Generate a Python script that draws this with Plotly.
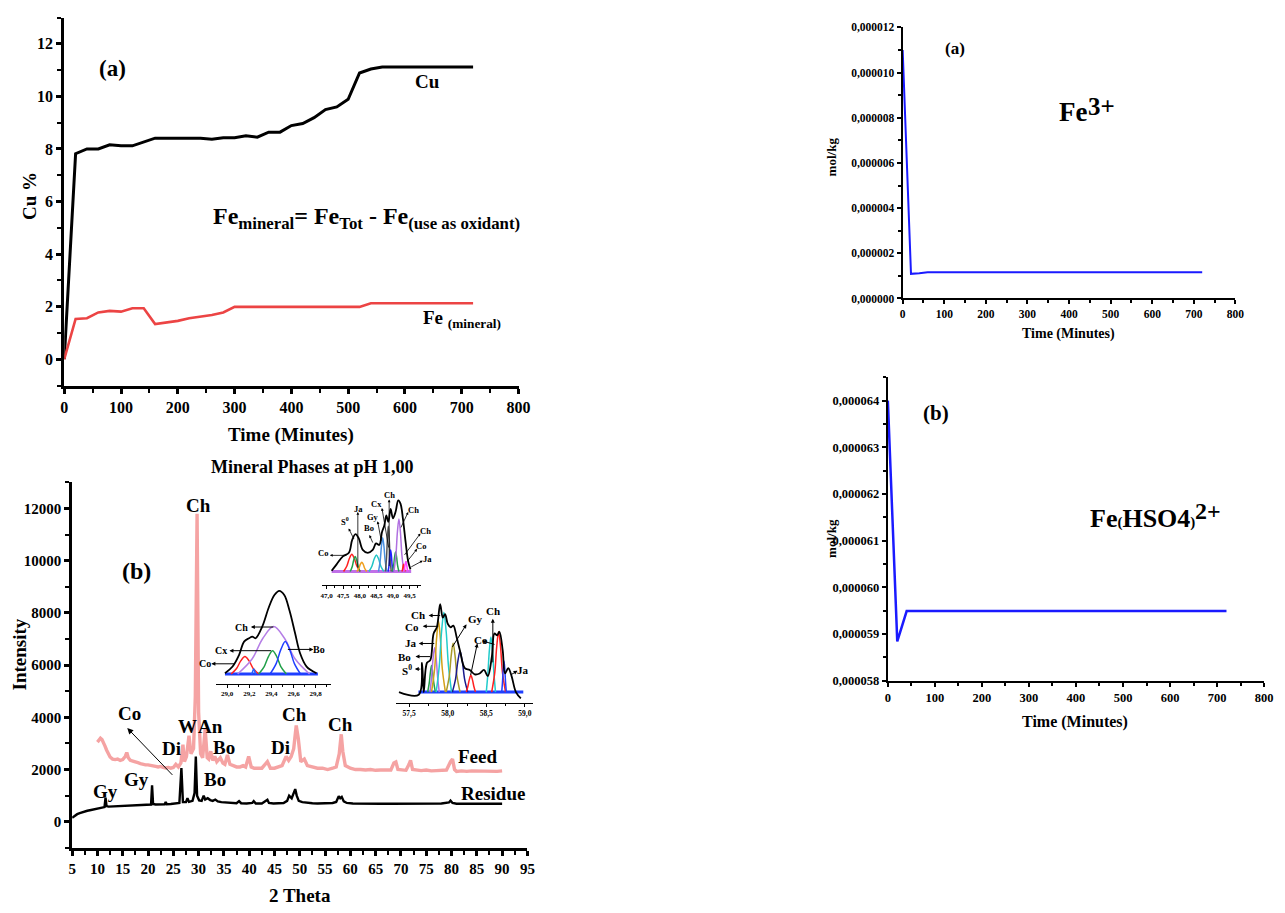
import plotly.graph_objects as go

W, H = 1285, 913
FONT = "Liberation Serif"

# ---------------- data: panel (a) left ----------------
TIME_MIN = [0, 20, 40, 60, 80, 100, 120, 140, 160, 180, 200, 220, 240, 260, 280, 300,
            320, 340, 360, 380, 400, 420, 440, 460, 480, 500, 520, 540, 560, 580, 600,
            620, 640, 660, 680, 700, 720]
CU_PCT = [0, 7.82, 8.0, 8.0, 8.16, 8.12, 8.12, 8.28, 8.41, 8.41, 8.41, 8.41, 8.41, 8.37,
          8.43, 8.43, 8.5, 8.45, 8.64, 8.64, 8.89, 8.97, 9.19, 9.5, 9.6, 9.89, 10.89,
          11.04, 11.12, 11.12, 11.12, 11.12, 11.12, 11.12, 11.12, 11.12, 11.12]
FE_MIN_PCT = [0, 1.53, 1.56, 1.78, 1.84, 1.81, 1.94, 1.94, 1.34, 1.40, 1.46, 1.56, 1.61,
              1.68, 1.78, 1.99, 1.99, 1.99, 1.99, 1.99, 1.99, 1.99, 1.99, 1.99, 1.99,
              1.99, 1.99, 2.13, 2.13, 2.13, 2.13, 2.13, 2.13, 2.13, 2.13, 2.13, 2.13]

# ---------------- data: right panels ----------------
FE3 = [11.0e-6, 1.09e-6, 1.12e-6, 1.16e-6, 1.16e-6, 1.16e-6, 1.16e-6, 1.16e-6, 1.16e-6,
       1.16e-6, 1.16e-6, 1.16e-6, 1.16e-6, 1.16e-6, 1.16e-6, 1.16e-6, 1.16e-6, 1.16e-6,
       1.16e-6, 1.16e-6, 1.16e-6, 1.16e-6, 1.16e-6, 1.16e-6, 1.16e-6, 1.16e-6, 1.16e-6,
       1.16e-6, 1.16e-6, 1.16e-6, 1.16e-6, 1.16e-6, 1.16e-6, 1.16e-6, 1.16e-6, 1.16e-6,
       1.16e-6]
FEHSO4 = [64.0e-6, 58.84e-6, 59.49e-6, 59.49e-6, 59.49e-6, 59.49e-6, 59.49e-6, 59.49e-6,
          59.49e-6, 59.49e-6, 59.49e-6, 59.49e-6, 59.49e-6, 59.49e-6, 59.49e-6, 59.49e-6,
          59.49e-6, 59.49e-6, 59.49e-6, 59.49e-6, 59.49e-6, 59.49e-6, 59.49e-6, 59.49e-6,
          59.49e-6, 59.49e-6, 59.49e-6, 59.49e-6, 59.49e-6, 59.49e-6, 59.49e-6, 59.49e-6,
          59.49e-6, 59.49e-6, 59.49e-6, 59.49e-6, 59.49e-6]

# ---------------- data: XRD ----------------
FEED_2T = [10.0, 10.3, 10.6, 10.9, 11.2, 11.5, 11.8, 12.1, 12.5, 13, 13.5, 14, 14.5, 15, 15.5,
           15.8, 16.1, 16.5, 17, 17.5, 18, 18.5, 19, 19.5, 20, 20.5, 21, 21.5, 22, 22.5, 23,
           23.5, 24, 24.5, 25, 25.5, 26, 26.5, 26.9, 27.2, 27.6, 28.1, 28.5, 29.0, 29.35,
           29.7, 30.0, 30.4, 30.8, 31.3, 31.7, 32.0, 32.4, 32.8, 33.2, 33.6, 34.3, 34.8,
           35.2, 35.7, 36.2, 36.8, 37.5, 38.2, 38.8, 39.3, 39.9, 40.4, 41, 41.8, 42.5, 43.6,
           44.2, 45, 45.8, 46.5, 47.3, 47.8, 48.3, 48.8, 49.3, 49.7, 50.2, 50.9, 51.5, 52.5,
           53.5, 54.5, 55.5, 56.5, 57.2, 57.8, 58.2, 58.5, 59, 60, 61, 62, 63, 64, 65, 66,
           67, 68, 68.6, 69.0, 69.4, 70, 71, 71.6, 71.9, 72.3, 73, 74, 75, 76, 77, 78, 79,
           79.8, 80.2, 80.6, 81, 82, 83, 84, 85, 86, 87, 88, 89, 90]
FEED_I = [3050, 3150, 3200, 3150, 3050, 2900, 2750, 2600, 2480, 2400, 2380, 2400, 2350, 2380,
          2500, 2650, 2450, 2350, 2330, 2280, 2260, 2230, 2200, 2180, 2180, 2150, 2140, 2120,
          2100, 2120, 2080, 2060, 2080, 2050, 2080, 2200, 2100, 2250, 2950, 2300, 2500, 3300,
          2600, 2800, 4800, 11800, 4200, 2600, 2450, 3560, 2450, 2400, 2700, 2350, 2500, 2300,
          2450, 2250, 2200, 2560, 2200, 2150, 2100, 2100, 2150, 2100, 2500, 2100, 2050, 2050,
          2050, 2300, 2050, 2050, 2100, 2150, 2500, 2350, 2500, 2800, 3690, 3200, 2300, 2400,
          2150, 2100, 2050, 2050, 2000, 2050, 2100, 2600, 3350, 2700, 2150, 2050, 2000, 2000,
          1980, 2000, 1970, 1980, 1970, 1980, 2250, 2290, 2000, 1980, 1970, 2200, 2350, 2000,
          1970, 1960, 1980, 1950, 1960, 1970, 1980, 2300, 2400, 2000, 1930, 1950, 1930, 1950,
          1940, 1950, 1930, 1940, 1930, 1950]
RES_2T = [5.0, 5.5, 6, 6.5, 7, 7.5, 8, 8.5, 9, 9.5, 10, 10.5, 11, 11.4, 11.6, 11.8, 12.2, 13,
          14, 15, 16, 17, 18, 19, 20, 20.6, 20.8, 21.0, 21.5, 22.5, 23.3, 23.5, 23.7, 24.5,
          25.5, 26.2, 26.6, 26.9, 27.5, 27.8, 28.1, 28.8, 29.2, 29.45, 29.7, 30.1, 30.6,
          31.0, 31.3, 31.8, 32.3, 32.8, 33.3, 33.8, 34.5, 35.5, 36.5, 37.5, 38, 38.4, 39.5,
          40.6, 40.9, 41.3, 42.5, 43.3, 43.6, 43.9, 44.8, 45.8, 46.8, 47.5, 47.9, 48.4,
          48.8, 49.1, 49.4, 49.8, 50.5, 51.5, 52.5, 53.5, 54.5, 55.5, 56.5, 57.2, 57.7,
          58.0, 58.3, 58.7, 59.3, 60.5, 62, 64, 66, 68, 70, 72, 74, 76, 78, 79.5, 79.8,
          80.2, 81, 83, 85, 87, 89, 90]
RES_I = [150, 230, 290, 330, 370, 400, 420, 440, 460, 480, 500, 520, 540, 560, 920, 600, 580,
         590, 600, 610, 620, 630, 640, 640, 650, 660, 1400, 680, 660, 660, 670, 760, 670, 680,
         700, 720, 2060, 750, 750, 900, 760, 800, 1100, 2500, 1000, 820, 800, 1000, 850, 900,
         830, 800, 850, 780, 750, 730, 720, 710, 790, 710, 700, 720, 790, 700, 700, 780, 840,
         720, 700, 710, 720, 800, 1000, 900, 1100, 1250, 1000, 800, 750, 720, 710, 700, 700,
         700, 720, 760, 980, 900, 950, 780, 720, 700, 690, 690, 690, 690, 690, 690, 690, 690,
         700, 740, 810, 720, 690, 690, 690, 690, 690, 690]

# ---------------- data: insets (deconvolution) ----------------
IN1_ENV_X = [47.15, 47.3, 47.49, 47.67, 47.77, 47.87, 47.97, 48.09, 48.24, 48.39, 48.49, 48.59,
             48.67, 48.74, 48.80, 48.86, 48.93, 49.0, 49.08, 49.16, 49.23, 49.30, 49.38, 49.46, 49.53]
IN1_ENV_Y = [0.01, 0.1, 0.21, 0.26, 0.44, 0.52, 0.46, 0.30, 0.26, 0.30, 0.39, 0.37, 0.55, 0.64,
             0.78, 0.69, 0.87, 0.74, 0.83, 0.99, 0.94, 0.74, 0.42, 0.14, 0.03]
IN1_BASE_X = [47.15, 49.55]
IN1_BASE_Y = [0, 0]
IN1_COMPONENTS = [
    ("#ff2020", [47.51, 47.61, 47.685, 47.76, 47.835, 47.91, 48.01], [0, .077, .18, .24, .18, .077, 0]),
    ("#22a04a", [47.71, 47.77, 47.815, 47.86, 47.905, 47.95, 48.01], [0, .067, .158, .21, .158, .067, 0]),
    ("#f0a020", [47.91, 47.97, 48.015, 48.06, 48.105, 48.15, 48.21], [0, .042, .098, .13, .098, .042, 0]),
    ("#22c4c4", [48.275, 48.365, 48.433, 48.5, 48.568, 48.635, 48.725], [0, .074, .173, .23, .173, .074, 0]),
    ("#4a90e0", [48.565, 48.615, 48.653, 48.69, 48.728, 48.765, 48.815], [0, .15, .353, .47, .353, .15, 0]),
    ("#555555", [48.773, 48.808, 48.834, 48.86, 48.886, 48.913, 48.948], [0, .2, .47, .63, .47, .2, 0]),
    ("#2020ff", [48.855, 48.885, 48.908, 48.93, 48.953, 48.975, 49.005], [0, .096, .225, .3, .225, .096, 0]),
    ("#22a04a", [48.98, 49.02, 49.05, 49.08, 49.11, 49.14, 49.18], [0, .086, .2, .27, .2, .086, 0]),
    ("#b070e0", [49.03, 49.09, 49.135, 49.18, 49.225, 49.27, 49.33], [0, .23, .55, .73, .55, .23, 0]),
    ("#ff2020", [49.27, 49.29, 49.305, 49.32, 49.335, 49.35, 49.37], [0, .03, .075, .1, .075, .03, 0]),
    ("#ff40ff", [49.33, 49.35, 49.37, 49.39, 49.41, 49.43, 49.45], [0, .045, .105, .14, .105, .045, 0]),
]

IN2_ENV_X = [28.98, 29.049, 29.108, 29.153, 29.198, 29.227, 29.257, 29.317, 29.376, 29.427,
             29.471, 29.516, 29.564, 29.614, 29.659, 29.718, 29.808]
IN2_ENV_Y = [.01, .09, .23, .39, .43, .45, .43, .57, .80, .95, 1.0, .95, .76, .49, .25, .09, .01]
IN2_BASE_X = [28.98, 29.82]
IN2_BASE_Y = [0, 0]
IN2_COMPONENTS = [
    ("#ff2020", [29.035, 29.085, 29.123, 29.16, 29.198, 29.235, 29.285], [0, .067, .158, .21, .158, .067, 0]),
    ("#2060ff", [29.22, 29.228, 29.234, 29.24, 29.246, 29.252, 29.26], [0, .02, .045, .06, .045, .02, 0]),
    ("#b57ee6", [29.095, 29.225, 29.323, 29.42, 29.518, 29.615, 29.745], [0, .18, .43, .57, .43, .18, 0]),
    ("#22a04a", [29.285, 29.335, 29.373, 29.41, 29.448, 29.485, 29.535], [0, .09, .21, .28, .21, .09, 0]),
    ("#1f3fff", [29.388, 29.443, 29.484, 29.525, 29.566, 29.608, 29.663], [0, .125, .29, .39, .29, .125, 0]),
]

IN3_ENV_X = [57.368, 57.624, 57.667, 57.689, 57.731, 57.774, 57.817, 57.859, 57.902, 57.936,
             57.966, 58.0, 58.038, 58.073, 58.115, 58.158, 58.222, 58.286, 58.35, 58.414,
             58.47, 58.52, 58.572, 58.606, 58.64, 58.67, 58.713, 58.743, 58.785, 58.828,
             58.884, 58.948]
IN3_ENV_Y = [0, -0.03, 0.33, 0.0, 0.33, 0.36, 0.66, 0.73, 0.99, 0.84, 0.88, 0.77, 0.73, 0.75,
             0.62, 0.47, 0.27, 0.25, 0.2, 0.21, 0.25, 0.18, 0.4, 0.66, 0.64, 0.68, 0.47, 0.21,
             0.27, 0.18, 0.0, -0.07]
IN3_BASE_X = [57.62, 58.98]
IN3_BASE_Y = [0, 0]
IN3_COMPONENTS = [
    ("#22a04a", [57.74, 57.76, 57.775, 57.79, 57.805, 57.82, 57.84], [0, .1, .22, .3, .22, .1, 0]),
    ("#b070e0", [57.77, 57.79, 57.81, 57.83, 57.85, 57.87, 57.89], [0, .16, .38, .5, .38, .16, 0]),
    ("#d4a017", [57.79, 57.83, 57.855, 57.88, 57.905, 57.93, 57.97], [0, .26, .6, .8, .6, .26, 0]),
    ("#22cccc", [57.85, 57.89, 57.92, 57.95, 57.98, 58.01, 58.05], [0, .29, .68, .9, .68, .29, 0]),
    ("#a89a2a", [57.98, 58.02, 58.045, 58.07, 58.095, 58.12, 58.16], [0, .18, .41, .55, .41, .18, 0]),
    ("#1a1a8c", [58.06, 58.1, 58.13, 58.16, 58.19, 58.22, 58.26], [0, .14, .34, .46, .34, .14, 0]),
    ("#ff2020", [58.24, 58.26, 58.28, 58.3, 58.32, 58.34, 58.36], [0, .06, .14, .19, .14, .06, 0]),
    ("#22cccc", [58.5, 58.52, 58.54, 58.56, 58.58, 58.6, 58.62], [0, .2, .47, .62, .47, .2, 0]),
    ("#ff2020", [58.57, 58.61, 58.635, 58.66, 58.685, 58.71, 58.75], [0, .22, .51, .68, .51, .22, 0]),
    ("#2040ff", [58.7, 58.71, 58.72, 58.73, 58.74, 58.75, 58.76], [0, .11, .26, .35, .26, .11, 0]),
]

# ---------------- helpers ----------------
def X(px):
    return px / W


def Y(py):
    return 1 - py / H


fig = go.Figure()

# panel (a) left
fig.add_trace(go.Scatter(x=TIME_MIN, y=CU_PCT, mode="lines", line=dict(color="black", width=3),
                         xaxis="x", yaxis="y", showlegend=False))
fig.add_trace(go.Scatter(x=TIME_MIN, y=FE_MIN_PCT, mode="lines", line=dict(color="#ec4444", width=2.6),
                         xaxis="x", yaxis="y", showlegend=False))
# XRD
fig.add_trace(go.Scatter(x=FEED_2T, y=FEED_I, mode="lines", line=dict(color="#f5a3a3", width=3.4),
                         xaxis="x2", yaxis="y2", showlegend=False))
fig.add_trace(go.Scatter(x=RES_2T, y=RES_I, mode="lines", line=dict(color="black", width=2.4),
                         xaxis="x2", yaxis="y2", showlegend=False))
# right panels
fig.add_trace(go.Scatter(x=TIME_MIN, y=FE3, mode="lines", line=dict(color="#1a1aff", width=2),
                         xaxis="x3", yaxis="y3", showlegend=False))
fig.add_trace(go.Scatter(x=TIME_MIN, y=FEHSO4, mode="lines", line=dict(color="#1a1aff", width=2.5),
                         xaxis="x4", yaxis="y4", showlegend=False))

# insets
for ax, comps, bx, by, bcol, ex, ey in [
    ("5", IN1_COMPONENTS, IN1_BASE_X, IN1_BASE_Y, "#c070e8", IN1_ENV_X, IN1_ENV_Y),
    ("6", IN2_COMPONENTS, IN2_BASE_X, IN2_BASE_Y, "#1f3fff", IN2_ENV_X, IN2_ENV_Y),
    ("7", IN3_COMPONENTS, IN3_BASE_X, IN3_BASE_Y, "#1f3fff", IN3_ENV_X, IN3_ENV_Y),
]:
    fig.add_trace(go.Scatter(x=bx, y=by, mode="lines", line=dict(color=bcol, width=3),
                             xaxis="x" + ax, yaxis="y" + ax, showlegend=False))
    for col, cx, cy in comps:
        fig.add_trace(go.Scatter(x=cx, y=cy, mode="lines", line=dict(color=col, width=1.5, shape="spline"),
                                 xaxis="x" + ax, yaxis="y" + ax, showlegend=False))
    fig.add_trace(go.Scatter(x=ex, y=ey, mode="lines", line=dict(color="black", width=1.8, shape="spline"),
                             xaxis="x" + ax, yaxis="y" + ax, showlegend=False))


def axis(domain, rng, anchor, dtick, tick0, minor_dtick, fsize, lw, tlen, mlen, fmt=None, **kw):
    d = dict(domain=domain, range=rng, anchor=anchor, dtick=dtick, tick0=tick0,
             showgrid=False, zeroline=False, showline=True, linecolor="black", linewidth=lw,
             ticks="outside", tickcolor="black", tickwidth=lw, ticklen=tlen,
             tickprefix="<b>", ticksuffix="</b>",
             tickfont=dict(family=FONT, size=fsize, color="black", weight="bold"),
             minor=dict(dtick=minor_dtick, ticks="outside", ticklen=mlen, tickwidth=lw * 0.8,
                        tickcolor="black", showgrid=False),
             fixedrange=True)
    if fmt:
        d["tickformat"] = fmt
    d.update(kw)
    return d


layout = dict(
    width=W, height=H, autosize=False, margin=dict(l=0, r=0, t=0, b=0),
    paper_bgcolor="white", plot_bgcolor="rgba(0,0,0,0)", separators=", ",
    showlegend=False,
    xaxis=axis([X(61), X(521)], [0, 800], "y", 100, 0, 50, 16, 3, 5, 4),
    yaxis=axis([Y(385), Y(11.7)], [-1, 13], "x", 2, 0, 1, 16, 3, 5, 4),
    xaxis2=axis([X(69), X(530)], [5, 95], "y2", 5, 5, 2.5, 15, 3, 5, 4),
    yaxis2=axis([Y(854), Y(483.3)], [-1000, 13000], "x2", 2000, 0, 1000, 15, 3, 5, 4, fmt="d"),
    xaxis3=axis([X(910), X(1247)], [0, 800], "y3", 100, 0, 50, 11.5, 2, 4, 3),
    yaxis3=axis([Y(296.7), Y(21.7)], [0, 12e-6], "x3", 2e-6, 0, 1e-6, 11.5, 2, 4, 3, fmt=".6f"),
    xaxis4=axis([X(895), X(1276)], [0, 800], "y4", 100, 0, 50, 12.5, 2.2, 4, 3),
    yaxis4=axis([Y(684.3), Y(376.7)], [58e-6, 64.5e-6], "x4", 1e-6, 58e-6, 0.5e-6, 12.5, 2.2, 4, 3, fmt=".6f"),
    xaxis5=axis([X(321.7), X(422.7)], [46.85, 49.86], "y5", 0.5, 47.0, 0.25, 7, 1.2, 3, 2, fmt=".1f"),
    yaxis5=dict(domain=[Y(587.7), Y(495)], range=[-0.192, 1.078], anchor="x5", visible=False, fixedrange=True),
    xaxis6=axis([X(215), X(331)], [28.902, 29.9375], "y6", 0.2, 29.0, 0.1, 7, 1.2, 3, 2, fmt=".1f"),
    yaxis6=dict(domain=[Y(687.3), Y(585)], range=[-0.114, 1.098], anchor="x6", visible=False, fixedrange=True),
    xaxis7=axis([X(397), X(536)], [57.33, 59.11], "y7", 0.5, 57.5, 0.25, 7.5, 1.2, 3, 2, fmt=".1f"),
    yaxis7=dict(domain=[Y(706.7), Y(598)], range=[-0.119, 1.089], anchor="x7", visible=False, fixedrange=True),
)
fig.update_layout(**layout)

ann = []


def txt(text, px, py, size, xanchor="center", yanchor="middle", angle=0):
    ann.append(dict(text=text, x=X(px), y=Y(py), xref="paper", yref="paper", showarrow=False,
                    font=dict(family=FONT, size=size, color="black", weight="bold"),
                    xanchor=xanchor, yanchor=yanchor, textangle=angle))


def arr(hx, hy, dx, dy, width=1.0, size=0.9):
    ann.append(dict(text="", x=X(hx), y=Y(hy), xref="paper", yref="paper", ax=dx, ay=dy,
                    showarrow=True, arrowhead=2, arrowsize=size, arrowwidth=width,
                    arrowcolor="black"))


def dtxt(text, x, y, xr, yr, size):
    ann.append(dict(text=text, x=x, y=y, xref=xr, yref=yr, showarrow=False,
                    font=dict(family=FONT, size=size, color="black", weight="bold"),
                    xanchor="center", yanchor="middle"))


# panel (a) left texts
txt("(a)", 110, 63, 23)
txt("Cu", 429, 77, 19)
txt("Fe<sub>mineral</sub>= Fe<sub>Tot</sub> - Fe<sub>(use as oxidant)</sub>", 210, 215, 24, xanchor="left")
txt("Fe <sub>(mineral)</sub>", 422, 318, 19, xanchor="left")
txt("Cu %", 26, 193, 19, angle=-90)
txt("Time (Minutes)", 291, 435, 19)

# XRD texts
txt("Mineral Phases at pH 1,00", 312, 468, 18)
txt("Intensity", 16, 658, 19, angle=-90)
txt("2 Theta", 300, 902, 19)
txt("(b)", 134, 573, 24)
for t, x, y in [("Ch", 29.9, 12130), ("Co", 16.3, 4160), ("W", 27.8, 3665), ("An", 32.3, 3665),
                ("Di", 24.7, 2796), ("Bo", 35.1, 2833), ("Ch", 48.9, 4118), ("Di", 46.2, 2833),
                ("Ch", 58.1, 3740), ("Feed", 85.2, 2493), ("Residue", 88.2, 1096),
                ("Gy", 11.6, 1171), ("Gy", 17.7, 1624), ("Bo", 33.3, 1624)]:
    dtxt(t, x, y, "x2", "y2", 19)
ann.append(dict(text="", x=15.9, y=3589, xref="x2", yref="y2", ax=25.1, ay=1738,
                axref="x2", ayref="y2", showarrow=True, arrowhead=2, arrowsize=1.2,
                arrowwidth=1, arrowcolor="black"))

# inset 1 labels
for t, px, py in [("Co", 322.7, 555), ("S<sup>0</sup>", 345, 523.3), ("Ja", 359.3, 510.7),
                  ("Bo", 369.3, 530), ("Gy", 374, 518.3), ("Cx", 376.7, 505), ("Ch", 390, 496),
                  ("Ch", 414.3, 511.7), ("Ch", 426.7, 532.7), ("Co", 422.7, 548.3), ("Ja", 429.3, 561)]:
    txt(t, px, py, 8.5)
for hx, hy, dx, dy in [(330, 557.3, 18, 0), (349, 530, 6, 12), (358.3, 513.3, 0, 57),
                       (370, 536.7, 4, 9), (378.3, 522.7, 4, 21), (382.7, 509.3, 7, 41),
                       (390, 500.7, 0, 68), (409.3, 513.3, -8, 17), (421.7, 535, -17, 23),
                       (418.3, 550.7, -11, 14), (424, 562.7, -13, 7)]:
    arr(hx, hy, dx, dy, 0.8, 0.7)

# inset 2 labels
for t, px, py in [("Ch", 240.7, 630), ("Cx", 220, 654), ("Co", 203.3, 667.3), ("Bo", 319.3, 652.7)]:
    txt(t, px, py, 10)
for hx, hy, dx, dy in [(250, 630, 24, 0), (228.3, 654, 43, 0), (210, 667.3, 25, 0), (313.3, 652.7, -27, 0)]:
    arr(hx, hy, dx, dy, 1, 0.8)

# inset 3 labels
for t, px, py in [("Ch", 419.3, 617.3), ("Co", 413.3, 630), ("Ja", 411.7, 646), ("Bo", 406, 660),
                  ("S<sup>0</sup>", 408, 674), ("Gy", 477.3, 621.7), ("Ch", 495.3, 614),
                  ("Co", 483.3, 642.7), ("Ja", 526, 673.3)]:
    txt(t, px, py, 11)
for hx, hy, dx, dy in [(430, 618.3, 13, 0), (424, 629.3, 17, 0), (420, 646.7, 17, 0),
                       (416.7, 660, 16, 0), (416, 672.7, 7, 0), (468.3, 627.3, -15, 24),
                       (495, 621.7, 0, 45), (479.3, 646.7, -7, 33), (484, 644, 14, 4),
                       (520, 674.3, -8, 5)]:
    arr(hx, hy, dx, dy, 1, 0.8)

# right panel texts
txt("(a)", 963, 43, 17)
txt("Fe", 1082.5, 108, 27)
txt("3+", 1111, 101.5, 25)
txt("mol/kg", 838, 153, 13, angle=-90)
txt("Time (Minutes)", 1078, 333, 14)
txt("(b)", 943.3, 413.3, 21)
txt("Fe<span style='font-size:15px'>(</span>HSO4<span style='font-size:15px'>)</span>",
    1098, 520, 26, xanchor="left")
txt("2+", 1204, 512, 24, xanchor="left")
txt("mol/kg", 838, 540, 13, angle=-90)
txt("Time (Minutes)", 1085, 726, 16)

fig.update_layout(annotations=ann)
fig.write_html("out.html", config={"displayModeBar": False},
               post_script="document.body.style.margin='0px';document.body.style.overflow='hidden';")
